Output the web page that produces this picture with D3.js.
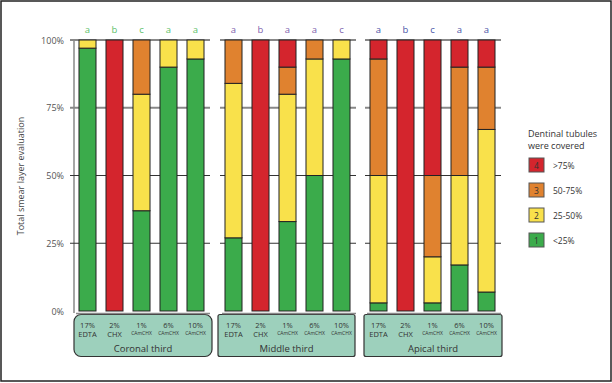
<!DOCTYPE html>
<html><head><meta charset="utf-8">
<script src="https://cdn.jsdelivr.net/npm/d3@7"></script>
<style>body{margin:0;background:#fff}svg{display:block;font-family:"Open Sans",sans-serif}</style>
</head><body><svg id="c" width="612" height="383"></svg>
<script>
const groups = ["Coronal third", "Middle third", "Apical third"];
const treatments = [["17%","EDTA"],["2%","CHX"],["1%","CAmCHX"],["6%","CAmCHX"],["10%","CAmCHX"]];
const levels = ["1","2","3","4"];
const levelLabels = ["<25%","25-50%","50-75%",">75%"];
const colors = ["#3bab4b","#f9e14b","#e0822f","#d4252d"];
// percentages per score level [1,2,3,4] for each bar
const coronal = [[97,3,0,0],[0,0,0,100],[37,43,20,0],[90,10,0,0],[93,7,0,0]];
const middle  = [[27,57,16,0],[0,0,0,100],[33,47,10,10],[50,43,7,0],[93,7,0,0]];
const apical  = [[3,47,43,7],[0,0,0,100],[3,17,30,50],[17,33,40,10],[7,60,23,10]];
const letters = [["a","b","c","a","a"],["a","b","a","a","c"],["a","b","c","a","a"]];
const letterColors = ["#5cbf6a","#7d5fae","#4a55a8"];
const yTicks = [0,25,50,75,100];
const data = [coronal, middle, apical];

const svg = d3.select("#c");
svg.append("rect").attr("x",1).attr("y",1).attr("width",610).attr("height",380)
  .attr("fill","#fff").attr("stroke","#222").attr("stroke-width",1.5);

const y = d3.scaleLinear().domain([0,100]).range([311,40]);
const ranges = [[74,209],[220,355],[365,500]];
const boxes = [[74,212,7],[218,355,2],[364,502,2]];

// y axis labels
svg.selectAll(".yt").data(yTicks).join("text")
  .attr("x",64).attr("y",d=>y(d)+3.5).attr("text-anchor","end")
  .attr("font-size",9).attr("fill","#555").text(d=>d+"%");
svg.append("text").attr("transform","translate(24,176) rotate(-90)")
  .attr("text-anchor","middle").attr("font-size",9).attr("fill","#444")
  .text("Total smear layer evaluation");
svg.append("line").attr("x1",74).attr("x2",74).attr("y1",40).attr("y2",313)
  .attr("stroke","#888").attr("stroke-width",1.5);

data.forEach((g,gi)=>{
  const [x0,x1] = ranges[gi];
  const x = d3.scaleBand().domain(d3.range(5)).range([x0,x1]).paddingInner(0.37).paddingOuter(0.185);
  // gridlines
  yTicks.filter(t=>t>0).forEach(t=>{
    svg.append("line").attr("x1",gi===0?70:x0).attr("x2",x1+1).attr("y1",y(t)).attr("y2",y(t))
      .attr("stroke",(t===50||t===25)?"#333":"#888").attr("stroke-width",(t===50||t===25)?1.2:1.8);
  });
  svg.append("line").attr("x1",x0+2).attr("x2",x1+1).attr("y1",313.5).attr("y2",313.5)
    .attr("stroke","#888").attr("stroke-width",1.5);
  g.forEach((vals,bi)=>{
    let cum = 0;
    vals.forEach((v,li)=>{
      if(v<=0) return;
      svg.append("rect").attr("x",x(bi)).attr("width",x.bandwidth())
        .attr("y",y(cum+v)).attr("height",y(cum)-y(cum+v))
        .attr("fill",colors[li]).attr("stroke","#222").attr("stroke-width",1);
      cum += v;
    });
    svg.append("text").attr("x",x(bi)+x.bandwidth()/2).attr("y",33)
      .attr("text-anchor","middle").attr("font-size",9.5).attr("fill",letterColors[gi])
      .text(letters[gi][bi]);
    const tx = x(bi)+x.bandwidth()/2;
    svg.append("text").attr("x",tx).attr("y",328).attr("text-anchor","middle")
      .attr("font-size",7.5).attr("fill","#333").text(treatments[bi][0]);
    const small = treatments[bi][1]==="CAmCHX";
    svg.append("text").attr("x",tx).attr("y",small?334.5:336.5).attr("text-anchor","middle")
      .attr("font-size",small?5:7.5).attr("fill","#333").text(treatments[bi][1]);
  });
  const b = boxes[gi];
  svg.insert("rect","text").attr("x",b[0]).attr("y",314.5).attr("width",b[1]-b[0]).attr("height",42)
    .attr("rx",b[2]).attr("fill","#9dd0bc").attr("stroke","#333").attr("stroke-width",1.2);
  svg.append("text").attr("x",(b[0]+b[1])/2).attr("y",352).attr("text-anchor","middle")
    .attr("font-size",9.5).attr("fill","#333").text(groups[gi]);
});

// legend
svg.append("text").attr("x",528).attr("y",137).attr("font-size",9).attr("fill","#333").text("Dentinal tubules");
svg.append("text").attr("x",528).attr("y",149).attr("font-size",9).attr("fill","#333").text("were covered");
const lg = svg.selectAll(".lg").data(d3.range(3,-1,-1)).join("g")
  .attr("transform",(d,i)=>`translate(529,${158+i*25})`);
lg.append("rect").attr("width",15).attr("height",14).attr("fill",d=>colors[d])
  .attr("stroke","#555").attr("stroke-width",1);
lg.append("text").attr("x",7.5).attr("y",10.5).attr("text-anchor","middle").attr("font-size",8.5)
  .attr("fill","#333").text(d=>levels[d]);
lg.append("text").attr("x",24).attr("y",10.5).attr("font-size",8.5).attr("fill","#333").text(d=>levelLabels[d]);
</script></body></html>
